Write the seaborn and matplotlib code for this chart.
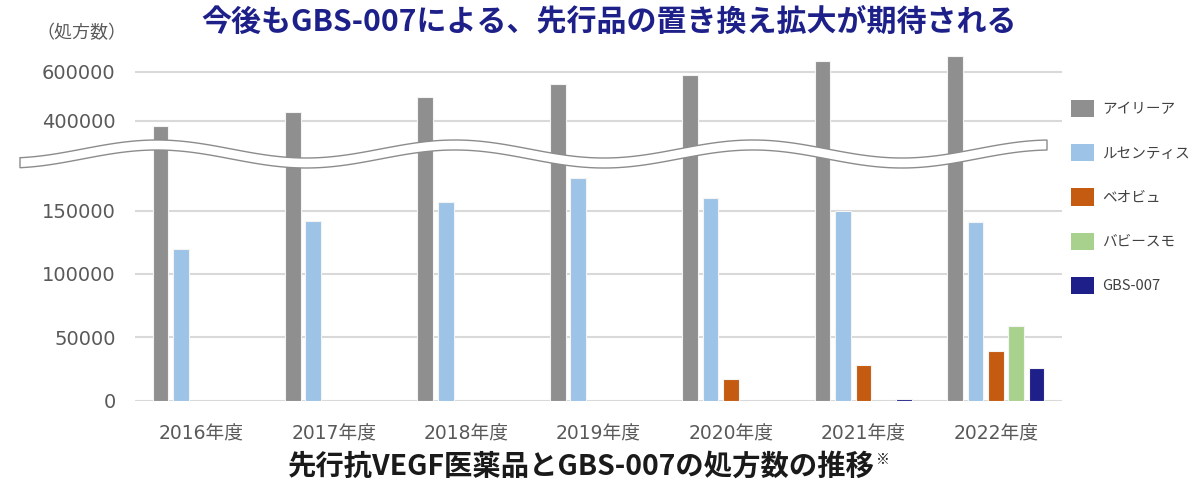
import numpy as np
import pandas as pd
import seaborn as sns
import matplotlib.pyplot as plt
from matplotlib.patches import Patch, Polygon

years = ['2016年度', '2017年度', '2018年度', '2019年度', '2020年度', '2021年度', '2022年度']
products = ['アイリーア', 'ルセンティス', 'ベオビュ', 'バビースモ', 'GBS-007']
eylea = [380000, 437000, 496000, 549000, 588000, 644000, 663000]
lucentis = [120000, 142000, 157000, 176000, 160000, 150000, 141000]
beovu = [0, 0, 0, 0, 17000, 28000, 39000]
vabysmo = [0, 0, 0, 0, 0, 0, 59000]
gbs007 = [0, 0, 0, 0, 0, 1200, 26000]
colors = ['#8f8f8f', '#9dc3e6', '#c55a11', '#a9d18e', '#1f1f8a']

top_ticks = [400000, 600000]
bottom_ticks = [0, 50000, 100000, 150000]

title = '今後もGBS-007による、先行品の置き換え拡大が期待される'
caption = '先行抗VEGF医薬品とGBS-007の処方数の推移'

rows = []
for name, vals in zip(products, [eylea, lucentis, beovu, vabysmo, gbs007]):
    for yr, v in zip(years, vals):
        if v > 0:
            rows.append((yr, name, v))
df = pd.DataFrame(rows, columns=['year', 'product', 'value'])

sns.set_theme(style='white')
plt.rcParams['font.family'] = ['DejaVu Sans', 'Noto Sans CJK JP']

W, H = 1199, 483
fig = plt.figure(figsize=(W / 100, H / 100), dpi=100)
left, right = 135, 1062
ax_top = fig.add_axes([left / W, 1 - 150 / H, (right - left) / W, 100 / H])
ax_bot = fig.add_axes([left / W, 1 - 400.7 / H, (right - left) / W, 250.7 / H])

for ax in (ax_top, ax_bot):
    sns.barplot(data=df, x='year', y='value', hue='product', order=years,
                hue_order=products, palette=colors, saturation=1,
                width=0.77, gap=0.23, edgecolor='#f4f4f4', linewidth=0.8,
                legend=False, ax=ax)
    ax.set_xlabel('')
    ax.set_ylabel('')
    ax.set_axisbelow(True)
    ax.yaxis.grid(True, color='#d9d9d9', lw=1.5)
    for s in ax.spines.values():
        s.set_visible(False)
    ax.tick_params(axis='both', length=0, labelsize=13.5, labelcolor='#595959')
    ax.tick_params(axis='y', pad=14, labelsize=14)

ax_top.set_ylim(282400, 687800)
ax_top.set_yticks(top_ticks, labels=[str(t) for t in top_ticks])
ax_top.tick_params(axis='x', labelbottom=False)

ax_bot.set_ylim(0, 197800)
ax_bot.set_yticks(bottom_ticks, labels=[str(t) for t in bottom_ticks])
ax_bot.tick_params(axis='x', pad=17)

# wavy break band
xs = np.linspace(20, 1047, 300)
upper = 149 - 9 * np.cos(2 * np.pi * (xs - 157) / 298)
lower = upper + 10
pts = np.concatenate([np.column_stack([xs, upper]), np.column_stack([xs[::-1], lower[::-1]])])
pts_fig = np.column_stack([pts[:, 0] / W, 1 - pts[:, 1] / H])
band = Polygon(pts_fig, closed=True, facecolor='white', edgecolor='#8c8c8c',
               lw=1.0, transform=fig.transFigure, zorder=10)
fig.add_artist(band)

handles = [Patch(facecolor=c, edgecolor='none', label=p) for c, p in zip(colors, products)]
fig.legend(handles=handles, loc='upper left', bbox_to_anchor=(1071 / W, 1 - 100 / H),
           frameon=False, prop={'family': ['Noto Sans CJK JP'], 'size': 10.5},
           labelcolor='#404040', handlelength=1.58, handleheight=1.44,
           labelspacing=1.85, handletextpad=0.55, borderaxespad=0, borderpad=0)

fig.text(609 / W, 1 - 22 / H, title, ha='center', va='center', fontsize=21.6,
         fontweight='bold', color='#1d2088', family=['Noto Sans CJK JP'])
fig.text(36 / W, 1 - 33 / H, '（処方数）', ha='left', va='center', fontsize=13,
         color='#595959', family=['Noto Sans CJK JP'])
cap = fig.text(581 / W, 1 - 467 / H, caption, ha='center', va='center', fontsize=20.4,
               fontweight='bold', color='#1a1a1a', family=['Noto Sans CJK JP'])

fig.canvas.draw()
bb = cap.get_window_extent()
fig.text(bb.x1 / W + 0.001, bb.y1 / H, '※', ha='left', va='top', fontsize=10,
         color='#1a1a1a', family=['Noto Sans CJK JP'])

fig.savefig('out.png', dpi=100)
